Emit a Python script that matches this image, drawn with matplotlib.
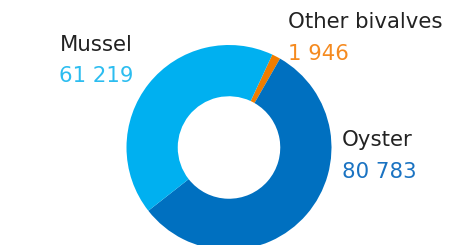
import matplotlib
matplotlib.use("Agg")
import matplotlib.pyplot as plt

categories = ["Other bivalves", "Oyster", "Mussel"]
values = [1946, 80783, 61219]
value_labels = ["1 946", "80 783", "61 219"]
colors = ["#F07D00", "#0070C0", "#00B0F0"]
value_colors = ["#F58A1F", "#1A73C2", "#2CBDF0"]

W, H = 458, 245
fig = plt.figure(figsize=(W / 100, H / 100), dpi=100)

cx, cy, r = 229, 147.5, 102.5
ax = fig.add_axes([(cx - r) / W, 1 - (cy + r) / H, 2 * r / W, 2 * r / H])
ax.pie(values, colors=colors, startangle=65, counterclock=False,
       wedgeprops=dict(width=0.5, linewidth=0), radius=1)
ax.set_xlim(-1, 1)
ax.set_ylim(-1, 1)
ax.set_aspect("equal")
ax.axis("off")

font = "DejaVu Sans"
lab_size = 15.3
val_size = 15.3
gap = 31.5
# label layout: (x px, label baseline y px, alignment)
layout = {
    "Other bivalves": (288, 28.3, "left"),
    "Oyster": (342, 146.3, "left"),
    "Mussel": (133, 50.7, "right"),
}
for cat, vl, vc in zip(categories, value_labels, value_colors):
    x, y, ha = layout[cat]
    fig.text(x / W, 1 - y / H, cat, ha=ha, va="baseline", fontsize=lab_size,
             color="#222222", family=font)
    fig.text(x / W, 1 - (y + gap) / H, vl, ha=ha, va="baseline", fontsize=val_size,
             color=vc, family=font)

fig.savefig("out.png", dpi=100)
